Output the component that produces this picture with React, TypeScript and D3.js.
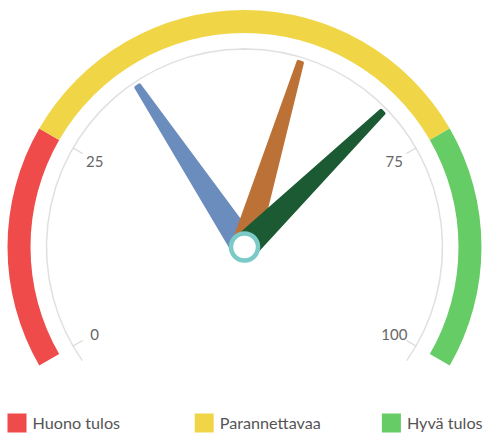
import React from "react";
import * as d3 from "d3";

// gauge bands
const bandLabels = ["Huono tulos", "Parannettavaa", "Hyvä tulos"];
const bandFrom = [0, 25, 75];
const bandTo = [25, 75, 100];
const bandColors = ["#ef4b4b", "#f0d647", "#66cc66"];

// needles
const needleValues = [36, 57, 69];
const needleColors = ["#6b8dbd", "#bc7136", "#1b5a33"];

// axis
const tickValues = [0, 25, 75, 100];

const width = 483;
const height = 434;
const cx = 244.5;
const cy = 247;

const App: React.FC = () => {
  const angle = d3.scaleLinear().domain([0, 100]).range([-120, 120]);
  const rad = (v: number) => (angle(v) * Math.PI) / 180;
  const pt = (v: number, r: number): [number, number] => [
    Math.sin(rad(v)) * r,
    -Math.cos(rad(v)) * r,
  ];

  const bandArc = d3.arc<{ s: number; e: number }>()
    .innerRadius(214)
    .outerRadius(237)
    .startAngle((d) => rad(d.s))
    .endAngle((d) => rad(d.e));

  const axisArc = d3.arc()({
    innerRadius: 198,
    outerRadius: 198,
    startAngle: (-125 * Math.PI) / 180,
    endAngle: (125 * Math.PI) / 180,
  } as any);

  const needlePath = (v: number) => {
    const len = 193;
    const base = 12;
    const top = 2;
    const a = rad(v);
    const ux = Math.sin(a), uy = -Math.cos(a);
    const px = -uy, py = ux;
    const pts: [number, number][] = [
      [px * base, py * base],
      [ux * len + px * top, uy * len + py * top],
      [ux * len - px * top, uy * len - py * top],
      [-px * base, -py * base],
    ];
    return d3.line()(pts) + "Z";
  };

  return (
    <svg
      width={width}
      height={height}
      style={{ position: "absolute", left: 0, top: 0, fontFamily: "Lato, sans-serif" }}
    >
      <g transform={`translate(${cx},${cy})`}>
        {bandFrom.map((f, i) => (
          <path key={i} d={bandArc({ s: f, e: bandTo[i] }) || ""} fill={bandColors[i]} />
        ))}
        <path d={axisArc || ""} fill="none" stroke="#e0e0e0" strokeWidth={1.5} />
        {tickValues.map((t) => {
          const [x1, y1] = pt(t, 198);
          const [x2, y2] = pt(t, 187);
          const [lx, ly] = pt(t, 173);
          return (
            <g key={t}>
              <line x1={x1} y1={y1} x2={x2} y2={y2} stroke="#d8d8d8" strokeWidth={1.2} />
              <text
                x={lx}
                y={ly}
                textAnchor="middle"
                dominantBaseline="central"
                fill="#666"
                fontSize={15}
              >
                {t}
              </text>
            </g>
          );
        })}
        {needleValues.map((v, i) => (
          <path
            key={i}
            d={needlePath(v)}
            fill={needleColors[i]}
            stroke={needleColors[i]}
            strokeWidth={3.5}
            strokeLinejoin="round"
          />
        ))}
        <circle r={13.5} fill="#fff" stroke="#7ccac7" strokeWidth={4.5} />
      </g>
      {bandLabels.map((lab, i) => (
        <g key={lab} transform={`translate(${7.5 + i * 187.2},413.5)`}>
          <rect width={19} height={19} fill={bandColors[i]} />
          <text x={25} y={15.5} fontSize={16.2} fill="#555">
            {lab}
          </text>
        </g>
      ))}
    </svg>
  );
};

export default App;
